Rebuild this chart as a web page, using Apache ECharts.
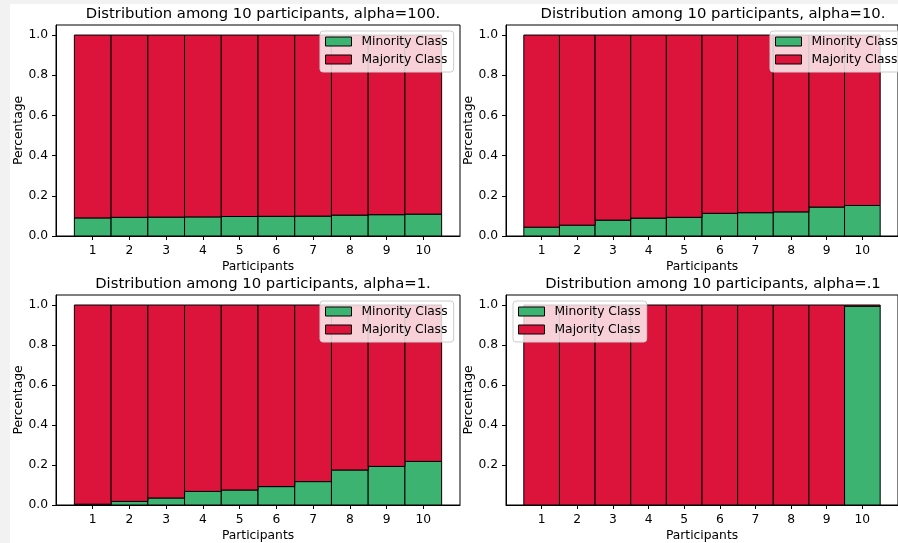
<!DOCTYPE html>
<html>
<head>
<meta charset="utf-8">
<script src="https://cdn.jsdelivr.net/npm/echarts@6/dist/echarts.min.js"></script>
<style>
  html, body { margin: 0; padding: 0; background: #f2f2f2; }
  #paper { position: absolute; left: 10px; top: 4px; width: 888px; height: 539px; background: #ffffff; }
  #chart { position: absolute; left: 0; top: 0; width: 898px; height: 543px; }
</style>
</head>
<body>
<div id="paper"></div>
<div id="chart"></div>
<script>
// Participants on the x axis and the y tick values
const participants = [1, 2, 3, 4, 5, 6, 7, 8, 9, 10];
const yTicks = [0, 0.2, 0.4, 0.6, 0.8, 1.0];
const yTicksNoZero = [0.2, 0.4, 0.6, 0.8, 1.0];

const titles = [
  'Distribution among 10 participants, alpha=100.',
  'Distribution among 10 participants, alpha=10.',
  'Distribution among 10 participants, alpha=1.',
  'Distribution among 10 participants, alpha=.1'
];

// Share of each class per participant
const minorityA100 = [0.090, 0.093, 0.094, 0.095, 0.097, 0.098, 0.099, 0.104, 0.106, 0.109];
const majorityA100 = [0.910, 0.907, 0.906, 0.905, 0.903, 0.902, 0.901, 0.896, 0.894, 0.891];

const minorityA10 = [0.044, 0.054, 0.079, 0.089, 0.093, 0.113, 0.116, 0.120, 0.144, 0.152];
const majorityA10 = [0.956, 0.946, 0.921, 0.911, 0.907, 0.887, 0.884, 0.880, 0.856, 0.848];

const minorityA1 = [0.004, 0.018, 0.035, 0.068, 0.075, 0.092, 0.117, 0.175, 0.193, 0.218];
const majorityA1 = [0.996, 0.982, 0.965, 0.932, 0.925, 0.908, 0.883, 0.825, 0.807, 0.782];

const minorityA01 = [0, 0, 0, 0, 0, 0, 0, 0, 0, 0.994];
const majorityA01 = [1, 1, 1, 1, 1, 1, 1, 1, 1, 0.006];

const panelData = [
  { minority: minorityA100, majority: majorityA100, ticks: yTicks },
  { minority: minorityA10, majority: majorityA10, ticks: yTicks },
  { minority: minorityA1, majority: majorityA1, ticks: yTicks },
  { minority: minorityA01, majority: majorityA01, ticks: yTicksNoZero }
];

const FONT = 'DejaVu Sans';
const GREEN = '#3cb371';
const RED = '#dc143c';

// Plot-area boxes (px)
const PW = 404, PH = 211;
const boxes = [
  { left: 56, top: 25 },
  { left: 506, top: 25 },
  { left: 56, top: 295 },
  { left: 506, top: 295 }
];
const legendPos = [
  { left: 320, top: 31 },
  { left: 770, top: 31 },
  { left: 320, top: 301 },
  { left: 513, top: 301 }
];

// Stacked bar of unit width: each datum is [participant, bottom, top]
function renderStackedBar(params, api) {
  const x = api.value(0);
  const p0 = api.coord([x - 0.5, api.value(1)]);
  const p1 = api.coord([x + 0.5, api.value(2)]);
  return {
    type: 'rect',
    shape: { x: p0[0], y: p1[1], width: p1[0] - p0[0], height: p0[1] - p1[1] },
    style: api.style()
  };
}

const grid = [], xAxis = [], yAxis = [], series = [], title = [], legend = [];

panelData.forEach((p, i) => {
  const b = boxes[i];
  grid.push({
    left: b.left, top: b.top, width: PW, height: PH,
    show: true, borderColor: '#000', borderWidth: 1, backgroundColor: 'transparent'
  });
  title.push({
    text: titles[i],
    left: b.left + PW / 2, top: b.top - 23, textAlign: 'center',
    textStyle: { fontFamily: FONT, fontSize: 14.8, fontWeight: 'normal', color: '#000' }
  });
  xAxis.push({
    type: 'value', gridIndex: i, min: 0, max: 11,
    name: 'Participants', nameLocation: 'middle', nameGap: 25,
    nameTextStyle: { fontFamily: FONT, fontSize: 12.3, color: '#000' },
    axisLine: { show: true, onZero: false, lineStyle: { color: '#000', width: 1 } },
    axisTick: { show: true, length: 4, lineStyle: { color: '#000' }, customValues: participants },
    axisLabel: { fontFamily: FONT, fontSize: 12.3, color: '#000', margin: 9, customValues: participants },
    splitLine: { show: false }
  });
  yAxis.push({
    type: 'value', gridIndex: i, min: 0, max: 1.05,
    name: 'Percentage', nameLocation: 'middle', nameGap: 31,
    nameTextStyle: { fontFamily: FONT, fontSize: 12.3, color: '#000' },
    axisLine: { show: true, onZero: false, lineStyle: { color: '#000', width: 1 } },
    axisTick: { show: true, length: 4, lineStyle: { color: '#000' }, customValues: p.ticks },
    axisLabel: {
      fontFamily: FONT, fontSize: 12.3, color: '#000', margin: 8, customValues: p.ticks,
      formatter: v => v.toFixed(1)
    },
    splitLine: { show: false }
  });
  series.push({
    name: 'Minority Class', type: 'custom', xAxisIndex: i, yAxisIndex: i,
    renderItem: renderStackedBar,
    itemStyle: { color: GREEN, borderColor: '#000', borderWidth: 1 },
    encode: { x: 0, y: [1, 2] },
    data: participants.map((x, k) => [x, 0, p.minority[k]]),
    silent: true, animation: false
  });
  series.push({
    name: 'Majority Class', type: 'custom', xAxisIndex: i, yAxisIndex: i,
    renderItem: renderStackedBar,
    itemStyle: { color: RED, borderColor: '#000', borderWidth: 1 },
    encode: { x: 0, y: [1, 2] },
    data: participants.map((x, k) => [x, p.minority[k], p.minority[k] + p.majority[k]]),
    silent: true, animation: false
  });
  legend.push({
    left: legendPos[i].left, top: legendPos[i].top,
    orient: 'vertical', selectedMode: false,
    data: ['Minority Class', 'Majority Class'],
    icon: 'rect', itemWidth: 26, itemHeight: 9, itemGap: 3,
    padding: [3, 6, 5, 5],
    itemStyle: { borderColor: '#000', borderWidth: 1 },
    backgroundColor: 'rgba(255,255,255,0.8)', borderColor: '#cccccc', borderWidth: 1, borderRadius: 3,
    textStyle: { fontFamily: FONT, fontSize: 12.3, color: '#000', lineHeight: 15, padding: [0, 0, 0, 5] }
  });
});

const chart = echarts.init(document.getElementById('chart'), null, { renderer: 'canvas' });
chart.setOption({
  backgroundColor: 'transparent',
  animation: false,
  title, grid, xAxis, yAxis, series, legend
});
</script>
</body>
</html>
